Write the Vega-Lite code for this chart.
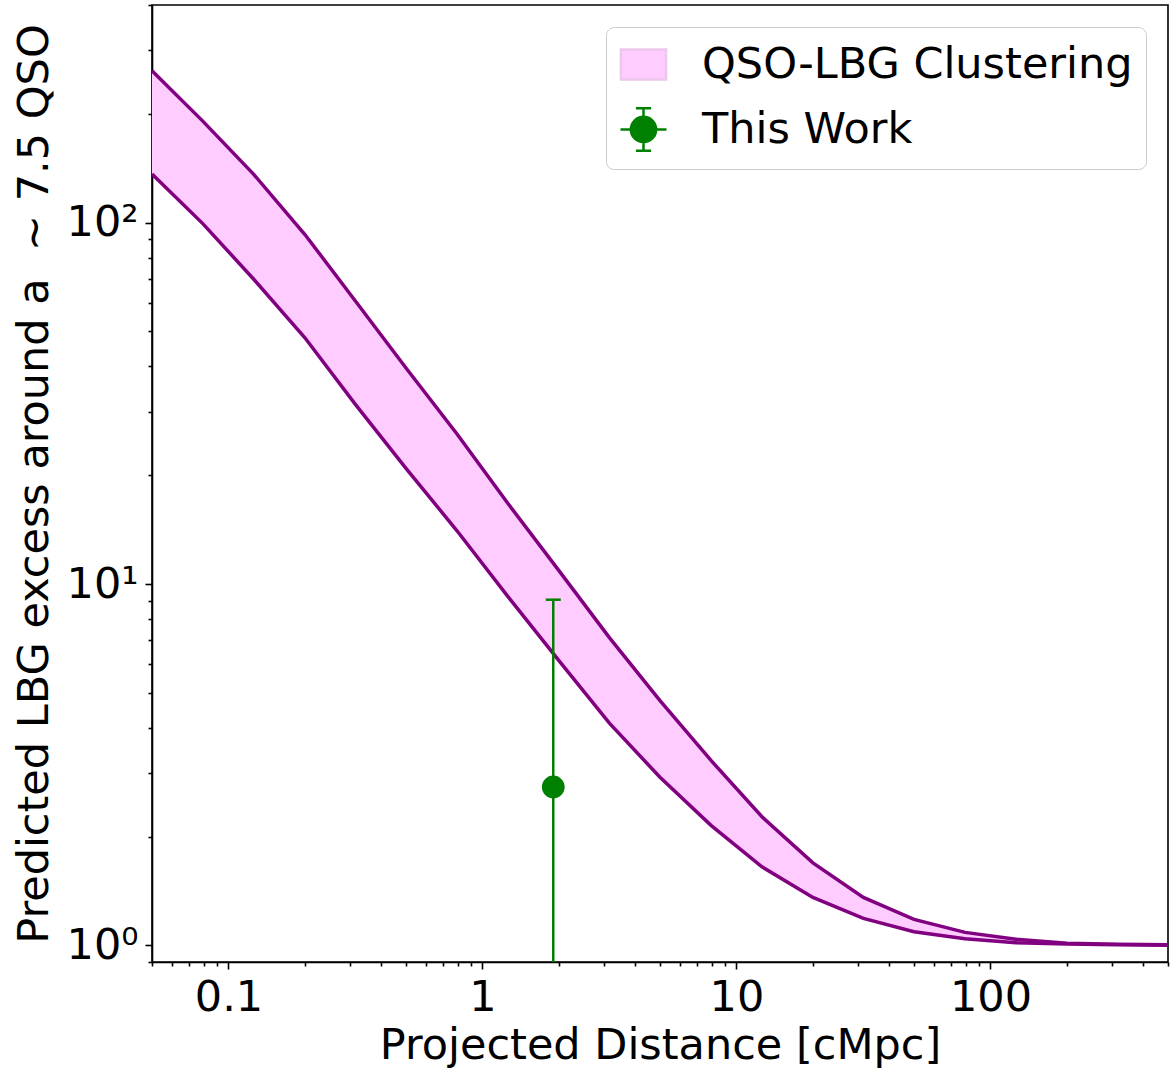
{
  "$schema": "https://vega.github.io/schema/vega-lite/v6.json",
  "width": 1016,
  "height": 957,
  "autosize": {"type": "none"},
  "padding": {"left": 152, "top": 5, "right": 4, "bottom": 106},
  "background": "white",
  "config": {
    "font": "DejaVu Sans",
    "view": {"stroke": "black", "strokeWidth": 1.6},
    "axis": {
      "labelFont": "DejaVu Sans",
      "titleFont": "DejaVu Sans",
      "labelFontSize": 43,
      "titleFontSize": 43,
      "titleFontWeight": "normal",
      "labelColor": "black",
      "titleColor": "black",
      "domainColor": "black",
      "domainWidth": 1.6,
      "tickColor": "black",
      "tickWidth": 1.6,
      "grid": false,
      "labelOverlap": false,
      "labelFlush": false,
      "labelPadding": 7
    },
    "legend": {
      "orient": "top-right",
      "offset": 22,
      "padding": 13,
      "strokeColor": "#cccccc",
      "cornerRadius": 8,
      "fillColor": "white",
      "labelFontSize": 43,
      "labelFont": "DejaVu Sans",
      "labelColor": "black",
      "labelLimit": 0,
      "rowPadding": 16,
      "symbolSize": 2116,
      "symbolOpacity": 1,
      "symbolStrokeWidth": 2.5,
      "labelOffset": 34
    }
  },
  "datasets": {
    "band": [
      {"x": 0.05, "lo": 136.3, "hi": 263.2},
      {"x": 0.0794, "lo": 99.2, "hi": 190.6},
      {"x": 0.126, "lo": 69.6, "hi": 135.8},
      {"x": 0.2, "lo": 48.0, "hi": 92.7},
      {"x": 0.316, "lo": 31.4, "hi": 60.7},
      {"x": 0.5, "lo": 20.9, "hi": 39.6},
      {"x": 0.794, "lo": 14.04, "hi": 26.0},
      {"x": 1.26, "lo": 9.23, "hi": 16.7},
      {"x": 2.0, "lo": 6.14, "hi": 10.89},
      {"x": 3.16, "lo": 4.12, "hi": 7.11},
      {"x": 5.0, "lo": 2.92, "hi": 4.76},
      {"x": 7.94, "lo": 2.15, "hi": 3.25},
      {"x": 12.6, "lo": 1.65, "hi": 2.27},
      {"x": 20.0, "lo": 1.358, "hi": 1.692},
      {"x": 31.6, "lo": 1.188, "hi": 1.358},
      {"x": 50.0, "lo": 1.091, "hi": 1.181},
      {"x": 79.4, "lo": 1.043, "hi": 1.087},
      {"x": 126.0, "lo": 1.017, "hi": 1.041},
      {"x": 200.0, "lo": 1.009, "hi": 1.015},
      {"x": 316.0, "lo": 1.0045, "hi": 1.007},
      {"x": 500.0, "lo": 1.002, "hi": 1.004}
    ],
    "obs": [
      {"x": 1.9, "y": 2.745, "elo": 0.5, "ehi": 9.05}
    ]
  },
  "layer": [
    {
      "data": {"name": "band"},
      "mark": {"type": "area", "opacity": 1, "clip": true},
      "encoding": {
        "x": {
          "field": "x", "type": "quantitative",
          "scale": {"type": "log", "domain": [0.05, 500], "nice": false},
          "axis": {
            "title": "Projected Distance [cMpc]",
            "values": [0.05, 0.06, 0.07, 0.08, 0.09, 0.1, 0.2, 0.3, 0.4, 0.5, 0.6, 0.7, 0.8, 0.9, 1, 2, 3, 4, 5, 6, 7, 8, 9, 10, 20, 30, 40, 50, 60, 70, 80, 90, 100, 200, 300, 400, 500],
            "labelExpr": "datum.value == 0.1 ? '0.1' : datum.value == 1 ? '1' : datum.value == 10 ? '10' : datum.value == 100 ? '100' : ''",
            "tickSize": {"condition": {"test": "datum.value == 0.1 || datum.value == 1 || datum.value == 10 || datum.value == 100", "value": 7}, "value": 4},
            "titlePadding": 5
          }
        },
        "y": {
          "field": "lo", "type": "quantitative",
          "scale": {"type": "log", "domain": [0.9, 400], "nice": false},
          "axis": {
            "title": "Predicted LBG excess around a\u00a0\u00a0~ 7.5 QSO",
            "values": [0.9, 1, 2, 3, 4, 5, 6, 7, 8, 9, 10, 20, 30, 40, 50, 60, 70, 80, 90, 100, 200, 300, 400],
            "labelExpr": "datum.value == 1 ? '10⁰' : datum.value == 10 ? '10¹' : datum.value == 100 ? '10²' : ''",
            "tickSize": {"condition": {"test": "datum.value == 1 || datum.value == 10 || datum.value == 100", "value": 7}, "value": 4},
            "titlePadding": 10
          }
        },
        "y2": {"field": "hi"},
        "color": {
          "datum": "QSO-LBG Clustering",
          "scale": {"domain": ["QSO-LBG Clustering", "This Work"], "range": ["#ffccff", "green"]},
          "legend": {"title": null}
        }
      }
    },
    {
      "data": {"name": "band"},
      "mark": {"type": "line", "color": "#800080", "strokeWidth": 3.5, "clip": true},
      "encoding": {
        "x": {"field": "x", "type": "quantitative"},
        "y": {"field": "hi", "type": "quantitative"}
      }
    },
    {
      "data": {"name": "band"},
      "mark": {"type": "line", "color": "#800080", "strokeWidth": 3.5, "clip": true},
      "encoding": {
        "x": {"field": "x", "type": "quantitative"},
        "y": {"field": "lo", "type": "quantitative"}
      }
    },
    {
      "data": {"name": "obs"},
      "mark": {"type": "rule", "color": "green", "strokeWidth": 2.5, "clip": true},
      "encoding": {
        "x": {"field": "x", "type": "quantitative"},
        "y": {"field": "elo", "type": "quantitative"},
        "y2": {"field": "ehi"}
      }
    },
    {
      "data": {"name": "obs"},
      "mark": {"type": "tick", "orient": "horizontal", "color": "green", "thickness": 2.5, "size": 15, "opacity": 1, "clip": true},
      "encoding": {
        "x": {"field": "x", "type": "quantitative"},
        "y": {"field": "ehi", "type": "quantitative"}
      }
    },
    {
      "data": {"name": "obs"},
      "mark": {"type": "point", "filled": true, "size": 520, "opacity": 1, "shape": "circle"},
      "encoding": {
        "x": {"field": "x", "type": "quantitative"},
        "y": {"field": "y", "type": "quantitative"},
        "color": {"datum": "This Work", "legend": {"title": null}}
      }
    },
    {
      "data": {"name": "obs"},
      "mark": {"type": "point", "filled": true, "opacity": 0},
      "encoding": {
        "x": {"field": "x", "type": "quantitative"},
        "y": {"field": "y", "type": "quantitative"},
        "color": {"datum": "This Work", "legend": {"title": null}},
        "shape": {
          "datum": "This Work",
          "scale": {"domain": ["QSO-LBG Clustering", "This Work"], "range": ["M-0.98,-0.65H0.98V0.65H-0.98Z", "M-1,0H1M0,-0.92V0.92M-0.33,-0.92H0.33M-0.33,0.92H0.33M-0.55,0A0.55,0.55 0 1,0 0.55,0A0.55,0.55 0 1,0 -0.55,0Z"]},
          "legend": {"title": null}
        },
        "stroke": {
          "datum": "This Work",
          "scale": {"domain": ["QSO-LBG Clustering", "This Work"], "range": ["#ecc6ec", "green"]},
          "legend": {"title": null}
        }
      }
    }
  ]
}
